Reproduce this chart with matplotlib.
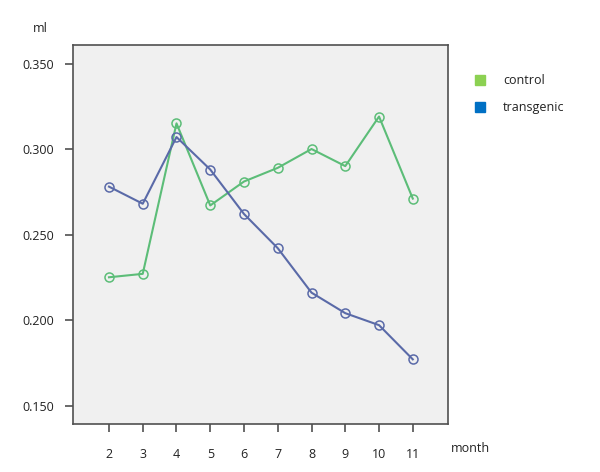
import matplotlib
matplotlib.use("Agg")
import matplotlib.pyplot as plt
from matplotlib.patches import Rectangle

plt.rcParams['font.family'] = ['Open Sans', 'DejaVu Sans']

months = [2, 3, 4, 5, 6, 7, 8, 9, 10, 11]
control = [0.225, 0.227, 0.315, 0.267, 0.281, 0.289, 0.300, 0.290, 0.319, 0.271]
transgenic = [0.278, 0.268, 0.307, 0.288, 0.262, 0.242, 0.216, 0.204, 0.197, 0.177]
yticks = [0.150, 0.200, 0.250, 0.300, 0.350]

line_green = '#5cbd78'
line_blue = '#5a6aa8'
legend_green = '#8cd152'
legend_blue = '#0070c4'

fig = plt.figure(figsize=(6, 4.72), dpi=100)
ax = fig.add_axes([0.122, 0.1017, 0.6245, 0.8036])
ax.set_facecolor('#f0f0f0')

ax.plot(months, control, color=line_green, lw=1.5, marker='o', ms=6.5,
        mfc='none', mec=line_green, mew=1.1)
ax.plot(months, transgenic, color=line_blue, lw=1.5, marker='o', ms=6.5,
        mfc='none', mec=line_blue, mew=1.1)

ax.set_xlim(0.94, 12.04)
ax.set_ylim(0.1392, 0.361)
ax.set_xticks(months)
ax.set_yticks(yticks)
ax.set_yticklabels(['%.3f' % v for v in yticks])

for s in ax.spines.values():
    s.set_color('#505050')
    s.set_linewidth(1.2)

ax.tick_params(axis='x', length=6, width=1.2, color='#505050', pad=11,
               labelsize=9, labelcolor='#222222')
ax.tick_params(axis='y', length=6, width=1.2, color='#505050', pad=8,
               labelsize=9, labelcolor='#222222')

fig.text(40 / 600, 1 - 28 / 472, 'ml', fontsize=9, ha='center', va='center', color='#222222')
fig.text(451 / 600, 1 - 449 / 472, 'month', fontsize=9, ha='left', va='center', color='#222222')

# legend
for ypix, col, lab in [(80, legend_green, 'control'), (107, legend_blue, 'transgenic')]:
    fig.patches.append(Rectangle((475 / 600, 1 - (ypix + 5) / 472), 10 / 600, 10 / 472,
                                 transform=fig.transFigure, color=col, figure=fig))
    fig.text(503 / 600, 1 - ypix / 472, lab, fontsize=9, ha='left', va='center', color='#222222')

fig.savefig('out.png', dpi=100)
